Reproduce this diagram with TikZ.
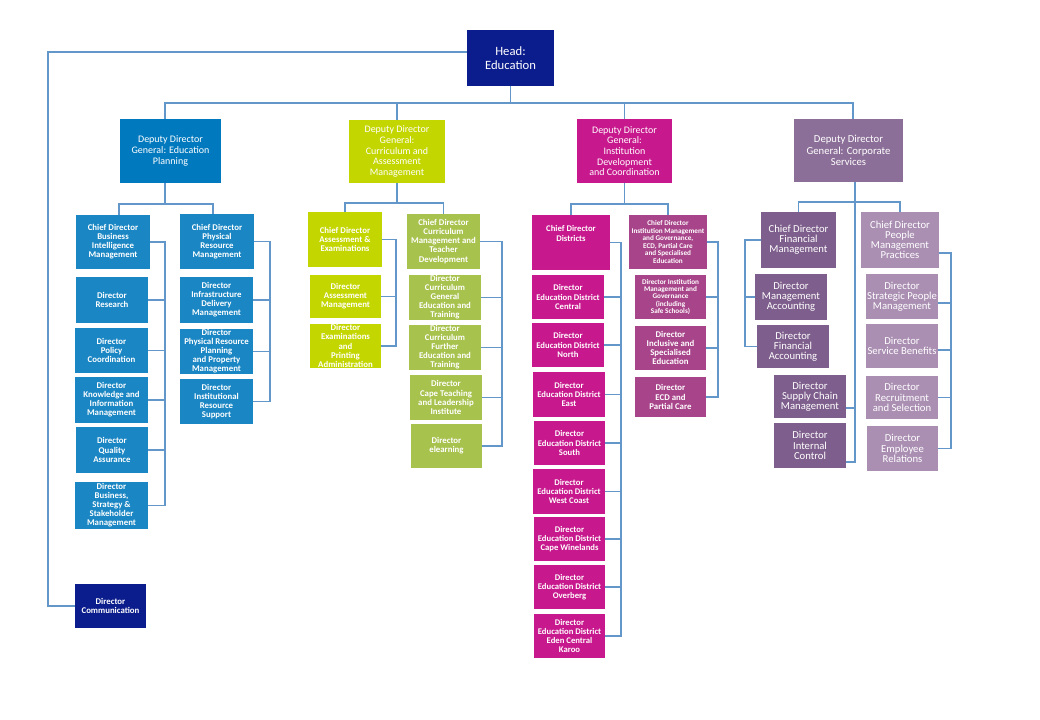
\documentclass[tikz,border=0pt]{standalone}
\usepackage{fontspec}
\setmainfont{Carlito}
\usetikzlibrary{calc}
\definecolor{navy}{HTML}{0B1C8C}
\definecolor{bluedd}{HTML}{0079BE}
\definecolor{bluec}{HTML}{1A86C3}
\definecolor{limedd}{HTML}{C4D600}
\definecolor{limer}{HTML}{A8C24E}
\definecolor{magdd}{HTML}{C8188D}
\definecolor{magr}{HTML}{A8448A}
\definecolor{purdd}{HTML}{8C6F98}
\definecolor{purl}{HTML}{7E5E8C}
\definecolor{purr}{HTML}{AA8FB3}
\definecolor{lnc}{HTML}{6397C9}
\newcommand\obox[7]{\node[#2, minimum width={(#5-#3)*0.75pt}, minimum height={(#6-#4)*0.75pt}] (#1) at ({(#3+#5)/2},{(#4+#6)/2}) {#7};}
\tikzset{
  bx/.style={rectangle, inner sep=0.5pt, outer sep=0pt, align=center, text=white},
  hdbox/.style={bx, fill=navy},
  ddgA/.style={bx, fill=bluedd, font=\fontsize{7.5}{8}\selectfont},
  ddgB/.style={bx, fill=limedd, font=\fontsize{7.5}{8}\selectfont},
  ddgC/.style={bx, fill=magdd, font=\fontsize{7.5}{8}\selectfont},
  ddgD/.style={bx, fill=purdd, font=\fontsize{8}{8.5}\selectfont},
  bxblue/.style={bx, fill=bluec, font=\fontsize{6.6}{6.8}\selectfont\bfseries},
  bxlimeL/.style={bx, fill=limedd, font=\fontsize{6.6}{6.8}\selectfont\bfseries},
  bxlimeR/.style={bx, fill=limer, font=\fontsize{6.6}{6.8}\selectfont\bfseries},
  bxmagL/.style={bx, fill=magdd, font=\fontsize{6.5}{6.8}\selectfont\bfseries},
  bxmagR/.style={bx, fill=magr, font=\fontsize{6.6}{6.8}\selectfont\bfseries},
  bxmagS/.style={bx, fill=magr, font=\fontsize{5.4}{5.6}\selectfont\bfseries},
  bxpurL/.style={bx, fill=purl, font=\fontsize{8}{7.6}\selectfont},
  bxpurR/.style={bx, fill=purr, font=\fontsize{8}{7.6}\selectfont},
  ln/.style={draw=lnc, line width=0.8pt}
}
\begin{document}
\begin{tikzpicture}[x=0.75pt,y=-0.75pt]
\useasboundingbox[fill=white] (0,0) rectangle (1040,720);
% top level
\obox{head}{hdbox, font=\fontsize{9.5}{10.5}\selectfont}{467}{30}{554}{86}{Head:\\Education}
\obox{comm}{hdbox, font=\fontsize{6.6}{6.8}\selectfont\bfseries}{75}{584}{146}{628}{Director\\Communication}
\obox{ddg1}{ddgA}{120}{119}{221}{183}{Deputy Director\\General: Education\\Planning}
\obox{ddg2}{ddgB}{349}{120}{445}{183}{Deputy Director\\General:\\Curriculum and\\Assessment\\Management}
\obox{ddg3}{ddgC}{577}{119}{672}{183}{Deputy Director\\General:\\Institution\\Development\\and Coordination}
\obox{ddg4}{ddgD}{794}{119}{903}{182}{Deputy Director\\General: Corporate\\Services}
% column 1
\obox{cdbim}{bxblue}{76}{215}{150}{269}{Chief Director\\Business\\Intelligence\\Management}
\obox{dres}{bxblue}{76}{277}{148}{323}{Director\\Research}
\obox{dpol}{bxblue}{75}{328}{148}{373}{Director\\Policy\\Coordination}
\obox{dkim}{bxblue}{75}{377}{148}{423}{Director\\Knowledge and\\Information\\Management}
\obox{dqa}{bxblue}{76}{427}{148}{473}{Director\\Quality\\Assurance}
\obox{dbss}{bxblue}{75}{482}{148}{529}{Director\\Business,\\Strategy \&\\Stakeholder\\Management}
\obox{cdprm}{bxblue}{180}{214}{254}{269}{Chief Director\\Physical\\Resource\\Management}
\obox{dide}{bxblue}{180}{277}{253}{323}{Director\\Infrastructure\\Delivery\\Management}
\obox{dprp}{bxblue}{180}{329}{253}{374}{Director\\Physical Resource\\Planning\\and Property\\Management}
\obox{dirs}{bxblue}{180}{379}{253}{424}{Director\\Institutional\\Resource\\Support}
% column 2
\obox{cdae}{bxlimeL}{308}{212}{382}{267}{Chief Director\\Assessment \&\\Examinations}
\obox{dam}{bxlimeL}{310}{275}{381}{318}{Director\\Assessment\\Management}
\obox{depa}{bxlimeL}{310}{324}{381}{368}{Director\\Examinations\\and\\Printing\\Administration}
\obox{cdcm}{bxlimeR}{407}{214}{480}{269}{Chief Director\\Curriculum\\Management and\\Teacher\\Development}
\obox{dcget}{bxlimeR}{409}{276}{481}{319}{Director\\Curriculum\\General\\Education and\\Training}
\obox{dcfet}{bxlimeR}{409}{326}{481}{369}{Director\\Curriculum\\Further\\Education and\\Training}
\obox{dctli}{bxlimeR}{410}{375}{482}{420}{Director\\Cape Teaching\\and Leadership\\Institute}
\obox{delearn}{bxlimeR}{411}{424}{482}{468}{Director\\elearning}
% column 3
\obox{cddist}{bxmagL}{532}{215}{610}{270}{Chief Director\\Districts\\~\\~}
\obox{dcen}{bxmagL}{532}{275}{604}{319}{Director\\Education District\\Central}
\obox{dnor}{bxmagL}{532}{323}{604}{367}{Director\\Education District\\North}
\obox{deast}{bxmagL}{533}{372}{605}{417}{Director\\Education District\\East}
\obox{dsou}{bxmagL}{534}{421}{605}{465}{Director\\Education District\\South}
\obox{dwc}{bxmagL}{533}{469}{605}{514}{Director\\Education District\\West Coast}
\obox{dcw}{bxmagL}{534}{517}{605}{561}{Director\\Education District\\Cape Winelands}
\obox{dov}{bxmagL}{534}{565}{605}{609}{Director\\Education District\\Overberg}
\obox{deck}{bxmagL}{534}{614}{605}{658}{Director\\Education District\\Eden Central\\Karoo}
\obox{cdinst}{bxmagS}{629}{215}{707}{269}{Chief Director\\Institution Management\\and Governance,\\ECD, Partial Care\\and Specialised\\Education}
\obox{dimg}{bxmagS}{635}{275}{706}{319}{Director Institution\\Management and\\Governance\\(including\\Safe Schools)}
\obox{dise}{bxmagR}{635}{326}{706}{370}{Director\\Inclusive and\\Specialised\\Education}
\obox{decd}{bxmagR}{635}{377}{706}{417}{Director\\ECD and\\Partial Care}
% column 4
\obox{cdfm}{bxpurL}{761}{212}{836}{268}{Chief Director\\Financial\\Management}
\obox{dma}{bxpurL}{755}{274}{827}{320}{Director\\Management\\Accounting}
\obox{dfa}{bxpurL}{757}{325}{829}{368}{Director\\Financial\\Accounting}
\obox{dscm}{bxpurL}{774}{375}{846}{418}{Director\\Supply Chain\\Management}
\obox{dic}{bxpurL}{774}{423}{846}{468}{Director\\Internal\\Control}
\obox{cdpmp}{bxpurR}{861}{212}{939}{268}{Chief Director\\People\\Management\\Practices}
\obox{dspm}{bxpurR}{866}{274}{938}{319}{Director\\Strategic People\\Management}
\obox{dsb}{bxpurR}{866}{324}{938}{368}{Director\\Service Benefits}
\obox{drs}{bxpurR}{866}{376}{938}{419}{Director\\Recruitment\\and Selection}
\obox{der}{bxpurR}{867}{426}{938}{471}{Director\\Employee\\Relations}
% ---------- connectors ----------
\coordinate (hl) at (48,52);
\draw[ln] (head.west |- hl) -- (hl) |- (comm.west);
\coordinate (xa) at (165,0);
\coordinate (xb) at (853,0);
\draw[ln] (head.south) -- ++(0,17) coordinate (hb);
\draw[ln] (xa |- ddg1.north) -- (xa |- hb) -- (xb |- hb) -- (xb |- ddg4.north);
\draw[ln] (ddg2.north) -- (ddg2.north |- hb);
\draw[ln] (ddg3.north) -- (ddg3.north |- hb);
% column 1
\coordinate (xc) at (119,0);
\coordinate (xd) at (213,0);
\draw[ln] (ddg1.south -| xa) -- ++(0,21) coordinate (j1);
\draw[ln] (xc |- cdbim.north) -- (xc |- j1) -- (xd |- j1) -- (xd |- cdprm.north);
\coordinate (s1) at (165,0);
\coordinate (s2) at (270,0);
\draw[ln] (cdbim.east) -- (cdbim.east -| s1) -- (dbss.east -| s1) -- (dbss.east);
\foreach \n in {dres,dpol,dkim,dqa} \draw[ln] (\n.east) -- (\n.east -| s1);
\draw[ln] (cdprm.east) -- (cdprm.east -| s2) -- (dirs.east -| s2) -- (dirs.east);
\foreach \n in {dide,dprp} \draw[ln] (\n.east) -- (\n.east -| s2);
% column 2
\draw[ln] (ddg2.south) -- ++(0,20) coordinate (j2);
\draw[ln] (cdae.north) |- (j2) -| (cdcm.north);
\coordinate (s3) at (396,0);
\coordinate (s4) at (502,0);
\draw[ln] (cdae.east) -- (cdae.east -| s3) -- (depa.east -| s3) -- (depa.east);
\draw[ln] (dam.east) -- (dam.east -| s3);
\draw[ln] (cdcm.east) -- (cdcm.east -| s4) -- (delearn.east -| s4) -- (delearn.east);
\foreach \n in {dcget,dcfet,dctli} \draw[ln] (\n.east) -- (\n.east -| s4);
% column 3
\draw[ln] (ddg3.south) -- ++(0,21) coordinate (j3);
\draw[ln] (cddist.north) |- (j3) -| (cdinst.north);
\coordinate (s5) at (621,0);
\coordinate (s6) at (718,0);
\draw[ln] (cddist.east) -- (cddist.east -| s5) -- (deck.east -| s5) -- (deck.east);
\foreach \n in {dcen,dnor,deast,dsou,dwc,dcw,dov} \draw[ln] (\n.east) -- (\n.east -| s5);
\draw[ln] (cdinst.east) -- (cdinst.east -| s6) -- (decd.east -| s6) -- (decd.east);
\foreach \n in {dimg,dise} \draw[ln] (\n.east) -- (\n.east -| s6);
% column 4
\coordinate (s7) at (855,0);
\coordinate (s8) at (745,0);
\coordinate (s9) at (951,0);
\coordinate (j4) at (855,202);
\coordinate (y408) at (0,408);
\coordinate (y462) at (0,462);
\draw[ln] (cdfm.north) |- (j4) -| (cdpmp.north);
\draw[ln] (ddg4.south -| s7) -- (s7 |- y462) -- (dic.east |- y462);
\draw[ln] (dscm.east |- y408) -- (s7 |- y408);
\draw[ln] (cdfm.west) -- (cdfm.west -| s8) -- (dfa.west -| s8) -- (dfa.west);
\draw[ln] (dma.west) -- (dma.west -| s8);
\coordinate (y253) at (0,253);
\coordinate (y303) at (0,303);
\coordinate (y350) at (0,350);
\draw[ln] (cdpmp.east |- y253) -- (s9 |- y253) -- (der.east -| s9) -- (der.east);
\draw[ln] (dspm.east |- y303) -- (s9 |- y303);
\draw[ln] (dsb.east |- y350) -- (s9 |- y350);
\draw[ln] (drs.east) -- (drs.east -| s9);
\end{tikzpicture}
\end{document}
